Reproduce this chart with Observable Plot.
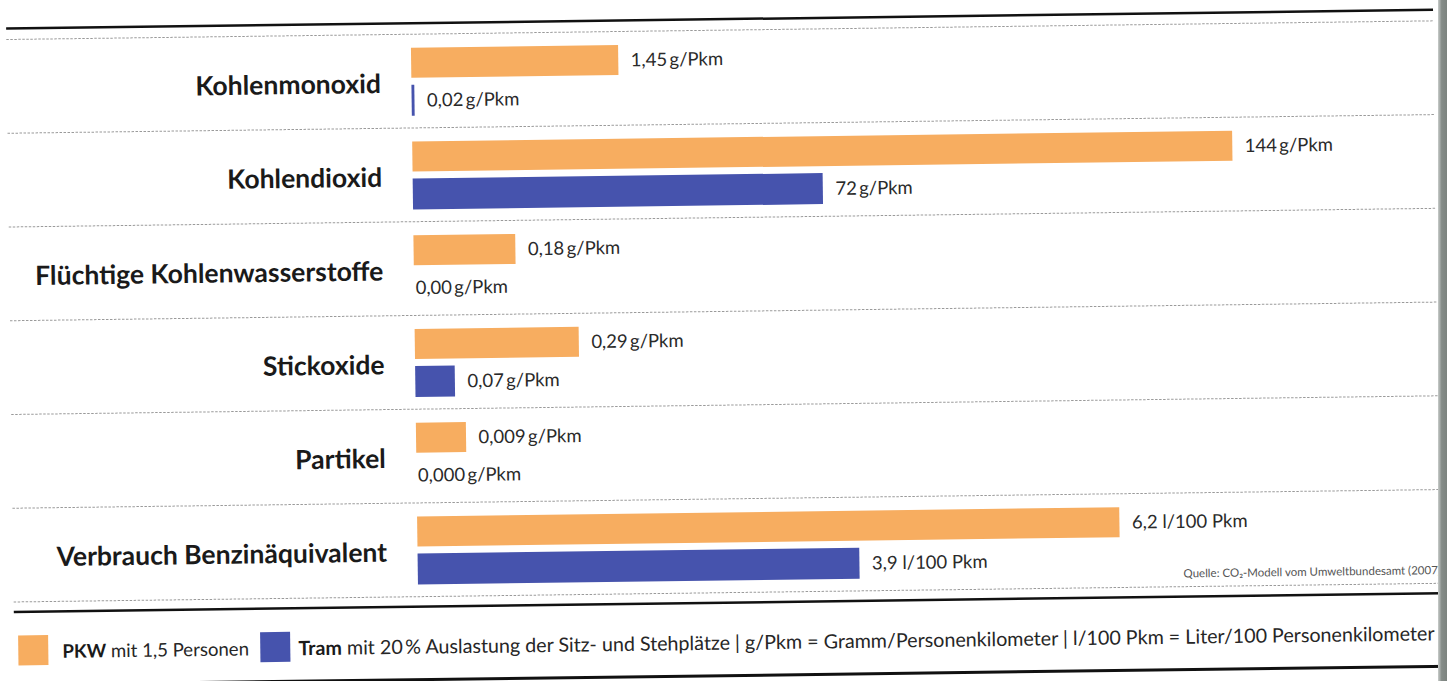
<!DOCTYPE html>
<html>
<head>
<meta charset="utf-8">
<script src="https://cdn.jsdelivr.net/npm/d3@7"></script>
<script src="https://cdn.jsdelivr.net/npm/@observablehq/plot@0.6"></script>
<style>
  html, body { margin: 0; padding: 0; background: #fff; width: 1447px; height: 681px; overflow: hidden; }
  #wrap { position: absolute; left: 0; top: 0; width: 1447px; height: 681px;
          transform: rotate(-0.75deg); transform-origin: 430px 320px;
          font-family: Lato, "Open Sans", sans-serif; color: #262626; }
  #chart { position: absolute; left: 0; top: 0; }
  #legend { position: absolute; left: 0; top: 620px; width: 1447px; height: 61px; }
  .sw { position: absolute; top: 10px; width: 30px; height: 30px; }
  .lt { position: absolute; top: 26px; transform: translateY(-50%); white-space: nowrap; }
  .lt b { font-weight: 700; color: #1a1a1a; }
  #bottomline { position: absolute; left: 0; top: 678px; width: 1447px; height: 2.5px; background: #111; }
  #edge { position: absolute; left: 1438px; top: 0; width: 9px; height: 681px;
          background: linear-gradient(to right, #c9cdcb, #858c88 40%, #7c837f); }
</style>
</head>
<body>
<div id="wrap">
  <div id="chart"></div>
  <div id="legend"></div>
  <div id="bottomline"></div>
</div>
<div id="edge"></div>
<script>
// ---- data ----
const categories = ["Kohlenmonoxid", "Kohlendioxid", "Flüchtige Kohlenwasserstoffe", "Stickoxide", "Partikel", "Verbrauch Benzinäquivalent"];
const pkwValues  = [1.45, 144, 0.18, 0.29, 0.009, 6.2];
const tramValues = [0.02, 72, 0.00, 0.07, 0.000, 3.9];
const pkwLabels  = ["1,45\u2009g/Pkm", "144\u2009g/Pkm", "0,18\u2009g/Pkm", "0,29\u2009g/Pkm", "0,009\u2009g/Pkm", "6,2 l/100 Pkm"];
const tramLabels = ["0,02\u2009g/Pkm", "72\u2009g/Pkm", "0,00\u2009g/Pkm", "0,07\u2009g/Pkm", "0,000\u2009g/Pkm", "3,9 l/100 Pkm"];
// each row has its own scale in the original: value that would fill the full bar length
const rowFullScale = [5.74, 144, 1.45, 1.45, 0.1476, 7.24];
const seriesNames = ["PKW", "Tram"];
const seriesText  = [" mit 1,5 Personen", " mit 20\u2009% Auslastung der Sitz- und Stehplätze | g/Pkm = Gramm/Personenkilometer | l/100 Pkm = Liter/100 Personenkilometer"];
const sourceText = "Quelle: CO\u2082-Modell vom Umweltbundesamt (2007)";

const orange = "#f7ad60";
const blue = "#4653ad";

const rows = categories.map((c, i) => ({
  cat: c, i,
  pkw: pkwValues[i] / rowFullScale[i],
  tram: tramValues[i] / rowFullScale[i],
  pkwRaw: pkwValues[i], tramRaw: tramValues[i],
  pkwLabel: pkwLabels[i], tramLabel: tramLabels[i]
}));

const band = (596 - 33.5) / categories.length;
const textFill = "#2a2a2a";
const valueSize = 18.5;

const chart = Plot.plot({
  width: 1447,
  height: 620,
  marginLeft: 10,
  marginRight: 10,
  marginTop: 33.5,
  marginBottom: 24,
  style: { fontFamily: "Lato, 'Open Sans', sans-serif", background: "transparent", color: textFill },
  x: { domain: [0, 1], range: [414.5, 1234.5], axis: null },
  y: { domain: [0, categories.length], range: [33.5, 596], axis: null },
  marks: [
    // separators
    Plot.ruleY(d3.range(categories.length + 1), { stroke: "#9a9a9a", strokeDasharray: "2.5,1.5", strokeWidth: 1 }),
    // heavy rules top & bottom
    Plot.ruleY([0], { dy: -11, stroke: "#111", strokeWidth: 2.5 }),
    Plot.ruleY([categories.length], { dy: 10, stroke: "#111", strokeWidth: 2.5 }),
    // bars
    Plot.rect(rows, { x1: () => 0, x2: "pkw", y1: "i", y2: d => d.i + 1, insetTop: 14, insetBottom: band - 44, fill: orange }),
    Plot.rect(rows, { x1: () => 0, x2: "tram", y1: "i", y2: d => d.i + 1, insetTop: 51, insetBottom: band - 82, fill: blue }),
    // value labels
    Plot.text(rows.filter(d => d.pkwRaw > 0), { x: "pkw", y: d => d.i + 0.5, dy: 29 - band / 2, dx: 12, text: "pkwLabel", textAnchor: "start", fontSize: valueSize, fill: textFill }),
    Plot.text(rows.filter(d => d.pkwRaw === 0), { x: "pkw", y: d => d.i + 0.5, dy: 29 - band / 2, dx: 1, text: "pkwLabel", textAnchor: "start", fontSize: valueSize, fill: textFill }),
    Plot.text(rows.filter(d => d.tramRaw > 0), { x: "tram", y: d => d.i + 0.5, dy: 66.5 - band / 2, dx: 12, text: "tramLabel", textAnchor: "start", fontSize: valueSize, fill: textFill }),
    Plot.text(rows.filter(d => d.tramRaw === 0), { x: "tram", y: d => d.i + 0.5, dy: 66.5 - band / 2, dx: 1, text: "tramLabel", textAnchor: "start", fontSize: valueSize, fill: textFill }),
    // category labels
    Plot.text(rows, { x: () => 0, y: d => d.i + 0.5, dy: 3, dx: -31, text: "cat", textAnchor: "end", fontSize: 26.5, fontWeight: "bold", fill: "#1a1a1a" }),
    // source
    Plot.text(rows.slice(-1), { y: d => d.i + 0.5, dy: 34, frameAnchor: "right", text: () => sourceText, textAnchor: "end", fontSize: 11.5, fill: "#555" })
  ]
});
document.getElementById("chart").appendChild(chart);

// legend
const legend = document.getElementById("legend");
const legendPos = [{ sw: 14, tx: 58, fs: 18.6 }, { sw: 256, tx: 294, fs: 19.7 }];
[orange, blue].forEach((col, k) => {
  const sw = document.createElement("div");
  sw.className = "sw";
  sw.style.left = legendPos[k].sw + "px";
  sw.style.background = col;
  legend.appendChild(sw);
  const t = document.createElement("div");
  t.className = "lt";
  t.style.left = legendPos[k].tx + "px";
  t.style.fontSize = legendPos[k].fs + "px";
  const b = document.createElement("b");
  b.textContent = seriesNames[k];
  t.appendChild(b);
  t.appendChild(document.createTextNode(seriesText[k]));
  legend.appendChild(t);
});
</script>
</body>
</html>
